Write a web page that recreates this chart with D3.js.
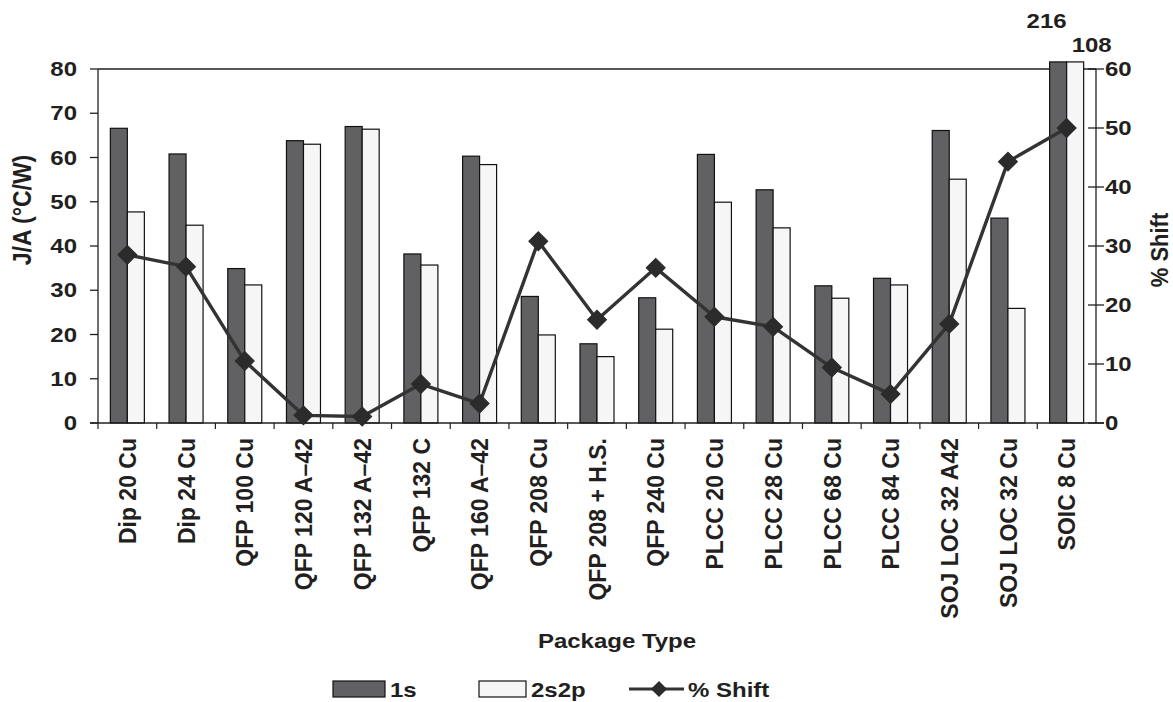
<!DOCTYPE html>
<html>
<head>
<meta charset="utf-8">
<script src="https://cdn.jsdelivr.net/npm/d3@7"></script>
<style>
  html, body { margin: 0; padding: 0; background: #fff; }
  svg { display: block; }
  text { font-family: "Liberation Sans", Arial, Helvetica, sans-serif; font-weight: bold; fill: #231f20; }
</style>
</head>
<body>
<svg id="chart" width="1173" height="702"></svg>
<script>
// ---- data ----
const categories = ["Dip 20 Cu", "Dip 24 Cu", "QFP 100 Cu", "QFP 120 A\u201342", "QFP 132 A\u201342",
  "QFP 132 C", "QFP 160 A\u201342", "QFP 208 Cu", "QFP 208 + H.S.", "QFP 240 Cu",
  "PLCC 20 Cu", "PLCC 28 Cu", "PLCC 68 Cu", "PLCC 84 Cu", "SOJ LOC 32 A42", "SOJ LOC 32 Cu", "SOIC 8 Cu"];
const series1s   = [66.6, 60.8, 34.9, 63.8, 67.0, 38.2, 60.3, 28.6, 17.9, 28.3, 60.7, 52.7, 31.0, 32.7, 66.1, 46.3, 216];
const series2s2p = [47.7, 44.7, 31.2, 63.0, 66.4, 35.7, 58.4, 19.9, 15.0, 21.2, 49.9, 44.1, 28.2, 31.2, 55.1, 25.9, 108];
const shiftPct   = [28.5, 26.5, 10.5, 1.3, 1.1, 6.6, 3.3, 30.8, 17.5, 26.3, 18.0, 16.3, 9.4, 4.9, 16.8, 44.3, 50.0];
const leftTicks  = [0, 10, 20, 30, 40, 50, 60, 70, 80];
const rightTicks = [0, 10, 20, 30, 40, 50, 60];
const seriesNames = ["1s", "2s2p"];
const lineName = "% Shift";
const yTitle = "J/A (\u00B0C/W)";
const y2Title = "% Shift";
const xTitle = "Package Type";

// ---- layout ----
const L = 98, R = 1096, T = 69, B = 423;
const barCap = 81.6; // bars beyond axis max are drawn just over the top frame
const SX = 1.2;      // horizontal text stretch
const dark = "#616163", light = "#f6f6f6", ink = "#231f20", lineCol = "#333333";

const svg = d3.select("#chart");
const x = d3.scaleBand().domain(categories).range([L, R]).padding(0);
const xi = d3.scaleBand().domain(seriesNames).range([0, x.bandwidth()]).paddingInner(0).paddingOuter(0.726);
const y = d3.scaleLinear().domain([0, 80]).range([B, T]);
const y2 = d3.scaleLinear().domain([0, 60]).range([B, T]);

function txt(g, px, py, s, o = {}) {
  const size = o.size || 20, sx = o.sx || SX, rot = o.rot || 0;
  return g.append("text")
    .attr("transform", `translate(${px},${py}) scale(${sx},1)` + (rot ? ` rotate(${rot})` : ""))
    .attr("text-anchor", o.anchor || "start")
    .attr("dy", o.dy || "0")
    .style("font-size", size + "px")
    .text(s);
}

// ---- frame top line ----
svg.append("line").attr("x1", L).attr("x2", R).attr("y1", T).attr("y2", T)
  .attr("stroke", ink).attr("stroke-width", 1.3);

// ---- bars ----
const rows = categories.map((c, i) => ({ c, vals: [series1s[i], series2s2p[i]] }));
const grp = svg.append("g").selectAll("g").data(rows).join("g")
  .attr("transform", d => `translate(${x(d.c)},0)`);
grp.selectAll("rect").data(d => d.vals.map((v, j) => ({ v, k: seriesNames[j] }))).join("rect")
  .attr("x", d => xi(d.k))
  .attr("width", xi.bandwidth())
  .attr("y", d => y(Math.min(d.v, barCap)))
  .attr("height", d => B - y(Math.min(d.v, barCap)))
  .attr("fill", d => d.k === "1s" ? dark : light)
  .attr("stroke", "#111").attr("stroke-width", 1.2);

// off-scale labels
rows.forEach(r => {
  r.vals.forEach((v, j) => {
    if (v > 80) {
      const bx = x(r.c) + xi(seriesNames[j]);
      if (j === 0) txt(svg, bx + xi.bandwidth(), 28, String(v), { anchor: "end" });
      else txt(svg, bx + 5, 52, String(v), { anchor: "start" });
    }
  });
});

// ---- axes ----
const axL = svg.append("g");
axL.append("line").attr("x1", L).attr("x2", L).attr("y1", T).attr("y2", B).attr("stroke", ink).attr("stroke-width", 1.3);
leftTicks.forEach(t => {
  axL.append("line").attr("x1", L - 8).attr("x2", L).attr("y1", y(t)).attr("y2", y(t)).attr("stroke", ink).attr("stroke-width", 1.3);
  txt(axL, 77, y(t), String(t), { anchor: "end", dy: "0.36em" });
});
const axR = svg.append("g");
axR.append("line").attr("x1", R).attr("x2", R).attr("y1", T).attr("y2", B).attr("stroke", ink).attr("stroke-width", 1.3);
rightTicks.forEach(t => {
  axR.append("line").attr("x1", R - 8).attr("x2", R + 8).attr("y1", y2(t)).attr("y2", y2(t)).attr("stroke", ink).attr("stroke-width", 1.3);
  txt(axR, 1105, y2(t), String(t), { anchor: "start", dy: "0.36em" });
});
const axB = svg.append("g");
axB.append("line").attr("x1", L - 8).attr("x2", R + 8).attr("y1", B).attr("y2", B).attr("stroke", ink).attr("stroke-width", 1.3);
categories.forEach((c, i) => {
  axB.append("line").attr("x1", x(c)).attr("x2", x(c)).attr("y1", B).attr("y2", B + 6).attr("stroke", ink).attr("stroke-width", 1.2);
  txt(axB, x(c) + x.bandwidth() / 2, 438, c, { anchor: "end", rot: -90, dy: "0.36em", size: 23, sx: 1.05 });
});

// titles
txt(svg, 22, 210, yTitle, { anchor: "middle", rot: -90, dy: "0.36em", size: 23, sx: 1.1 });
txt(svg, 1160, 250, y2Title, { anchor: "middle", rot: -90, dy: "0.36em", size: 22, sx: 1.05 });
txt(svg, 617, 648, xTitle, { anchor: "middle" });

// ---- line ----
const pts = categories.map((c, i) => [x(c) + x.bandwidth() / 2, y2(shiftPct[i])]);
svg.append("path").attr("d", d3.line()(pts)).attr("fill", "none")
  .attr("stroke", lineCol).attr("stroke-width", 3.4).attr("stroke-linejoin", "round");
svg.append("g").selectAll("path").data(pts).join("path")
  .attr("transform", d => `translate(${d[0]},${d[1]}) rotate(45)`)
  .attr("d", d3.symbol().type(d3.symbolSquare).size(180))
  .attr("fill", "#2b2b2b").attr("stroke", "#2b2b2b").attr("stroke-width", 1);

// ---- legend ----
const lg = svg.append("g");
lg.append("rect").attr("x", 333).attr("y", 681).attr("width", 52).attr("height", 16).attr("fill", dark).attr("stroke", "#111").attr("stroke-width", 1.2);
txt(lg, 390, 697, seriesNames[0]);
lg.append("rect").attr("x", 479).attr("y", 681).attr("width", 47).attr("height", 16).attr("fill", light).attr("stroke", "#111").attr("stroke-width", 1.2);
txt(lg, 531, 697, seriesNames[1]);
lg.append("line").attr("x1", 629).attr("x2", 684).attr("y1", 689).attr("y2", 689).attr("stroke", lineCol).attr("stroke-width", 3.2);
lg.append("path").attr("transform", "translate(659,689) rotate(45)").attr("d", d3.symbol().type(d3.symbolSquare).size(130)).attr("fill", "#2b2b2b");
txt(lg, 688, 697, lineName);
</script>
</body>
</html>
